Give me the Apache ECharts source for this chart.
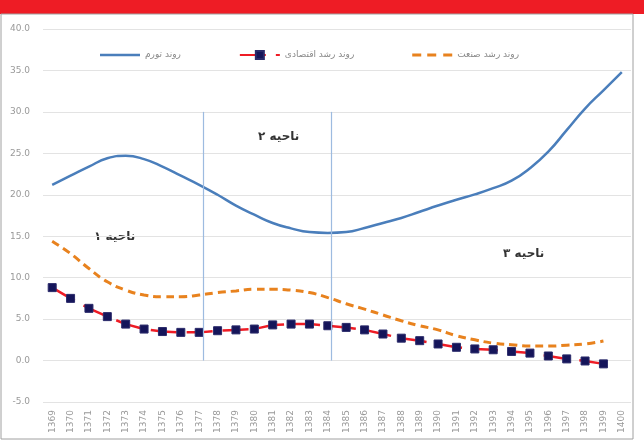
<!DOCTYPE html>
<html>
<head>
<meta charset="utf-8">
<script src="https://cdn.jsdelivr.net/npm/echarts@6/dist/echarts.min.js"></script>
<style>
html,body{margin:0;padding:0;background:#fff;}
#c{width:644px;height:440px;}
</style>
</head>
<body>
<div id="c"></div>
<script>
var years = ['1369','1370','1371','1372','1373','1374','1375','1376','1377','1378','1379','1380','1381','1382','1383','1384','1385','1386','1387','1388','1389','1390','1391','1392','1393','1394','1395','1396','1397','1398','1399','1400'];
var inflation = [21.2,22.3,23.4,24.4,24.7,24.3,23.4,22.3,21.2,20.0,18.7,17.6,16.6,15.95,15.5,15.4,15.5,16.0,16.6,17.2,17.95,18.7,19.4,20.05,20.8,21.7,23.2,25.2,27.8,30.4,32.6,34.8];
var growth = [8.8,7.5,6.3,5.3,4.4,3.8,3.5,3.4,3.4,3.6,3.7,3.8,4.3,4.4,4.4,4.2,4.0,3.7,3.2,2.7,2.4,2.0,1.6,1.4,1.3,1.1,0.9,0.55,0.2,-0.05,-0.4,null];
var industry = [14.4,12.9,11.1,9.5,8.5,7.9,7.7,7.7,7.9,8.2,8.4,8.6,8.6,8.5,8.2,7.6,6.85,6.2,5.5,4.8,4.2,3.7,3.0,2.5,2.1,1.9,1.75,1.75,1.85,2.0,2.35,null];
var seriesNames = ['روند تورم','روند رشد اقتصادی','روند رشد صنعت'];
var regionNames = ['ناحیه ۱','ناحیه ۲','ناحیه ۳'];
var boundaries = [8.2, 15.2];
var boundaryTop = 30;

var font = 'DejaVu Sans';
var chart = echarts.init(document.getElementById('c'), null, {renderer:'canvas'});
chart.setOption({
  animation:false,
  backgroundColor:'#fff',
  textStyle:{fontFamily:font},
  grid:{left:43,right:13,top:29,bottom:38},
  legend:{
    top:45,left:95,itemGap:58,itemWidth:40,itemHeight:10,
    textStyle:{fontSize:9,color:'#888',fontFamily:font},
    data:[
      {name:seriesNames[0],icon:'path://M0,0H40V2.5H0Z'},
      {name:seriesNames[1]},
      {name:seriesNames[2],icon:'path://M0,0H9V3H0Z M15,0H24V3H15Z M31,0H40V3H31Z'}
    ]
  },
  xAxis:[{
    type:'category',data:years,boundaryGap:true,
    axisLine:{show:false,onZero:true},axisTick:{show:false},
    axisLabel:{rotate:90,fontSize:9,color:'#999',margin:8,interval:0},
    splitLine:{show:false}
  },{
    type:'value',min:-0.5,max:31.5,show:false
  }],
  yAxis:{
    type:'value',min:-5,max:40,interval:5,
    axisLine:{show:false},axisTick:{show:false},
    axisLabel:{fontSize:9,color:'#999',margin:13,formatter:function(v){return v.toFixed(1);}},
    splitLine:{lineStyle:{color:'#e3e3e3',width:1}}
  },
  series:[
    {name:seriesNames[0],type:'line',data:inflation,smooth:true,showSymbol:false,symbol:'none',
     lineStyle:{color:'#4a7ebb',width:2.5},itemStyle:{color:'#4a7ebb'},z:3},
    {name:seriesNames[1],type:'line',data:growth,smooth:false,symbol:'rect',symbolSize:8,
     lineStyle:{color:'#ee1c25',width:2.5,type:[26,10]},
     itemStyle:{color:'#15155a',borderColor:'#2a2a6a',borderWidth:1},z:4},
    {name:seriesNames[2],type:'line',data:industry,smooth:true,showSymbol:false,symbol:'none',
     lineStyle:{color:'#e8821e',width:3,type:[8,5]},itemStyle:{color:'#e8821e'},z:3},
    {type:'line',xAxisIndex:1,yAxisIndex:0,data:[],silent:true,
     markLine:{symbol:'none',silent:true,label:{show:false},
       lineStyle:{color:'#9dbbe0',width:1.2,type:'solid'},
       data:boundaries.map(function(b){return [{coord:[b,0]},{coord:[b,boundaryTop]}];})
     }}
  ],
  graphic:[
    {type:'rect',shape:{x:0,y:0,width:644,height:14},style:{fill:'#ee1c25'},silent:true},
    {type:'rect',shape:{x:1,y:14,width:632,height:425},style:{fill:'none',stroke:'#a0a0a0',lineWidth:1},silent:true},
    {type:'text',left:86,top:231,style:{text:regionNames[0],font:'bold 12px '+font,fill:'#333',backgroundColor:'#fff',padding:[0,8]}},
    {type:'text',left:258,top:131,style:{text:regionNames[1],font:'bold 12px '+font,fill:'#333'}},
    {type:'text',left:503,top:248,style:{text:regionNames[2],font:'bold 12px '+font,fill:'#333'}}
  ]
});
</script>
</body>
</html>
